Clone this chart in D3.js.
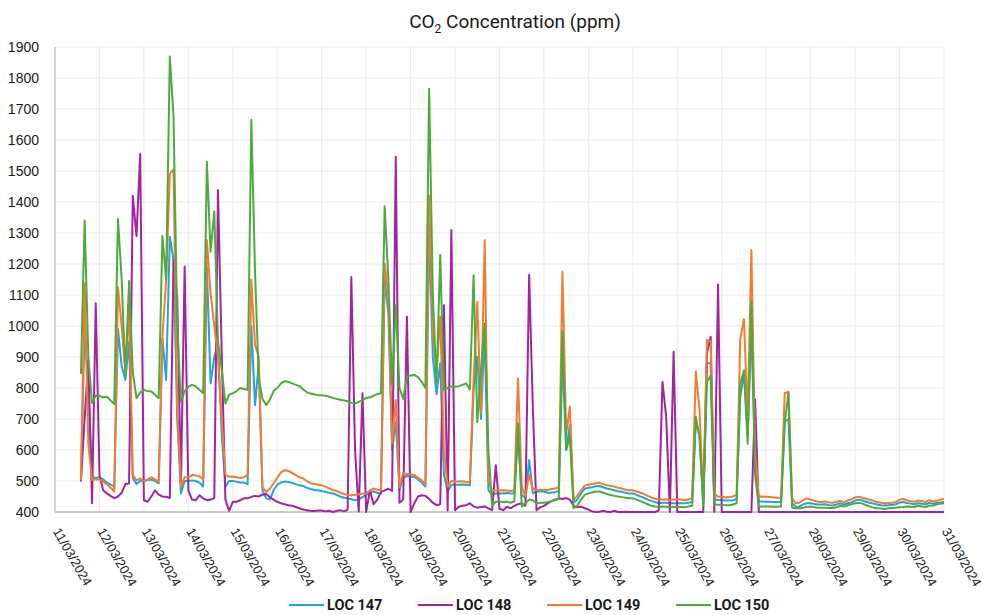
<!DOCTYPE html>
<html>
<head>
<meta charset="utf-8">
<script src="https://cdn.jsdelivr.net/npm/d3@7"></script>
<style>
  body { margin: 0; background: #fff; }
  svg { font-family: Roboto, "Open Sans", sans-serif; }
</style>
</head>
<body>
<svg id="chart" width="983" height="615"></svg>
<script>
// series and their colours
var seriesNames = ["LOC 147", "LOC 148", "LOC 149", "LOC 150"];
var seriesColors = ["#1fa5d8", "#a0259e", "#f47b30", "#4eaa3c"];

// readings every 2 hours, first one 11/03/2024 14:00
var sampleStart = "11/03/2024 14";
var sampleStepHours = 2;

var dayTicks = ["11/03/2024", "12/03/2024", "13/03/2024", "14/03/2024", "15/03/2024", "16/03/2024",
  "17/03/2024", "18/03/2024", "19/03/2024", "20/03/2024", "21/03/2024", "22/03/2024", "23/03/2024",
  "24/03/2024", "25/03/2024", "26/03/2024", "27/03/2024", "28/03/2024", "29/03/2024", "30/03/2024", "31/03/2024"];
var ppmTicks = [400, 500, 600, 700, 800, 900, 1000, 1100, 1200, 1300, 1400, 1500, 1600, 1700, 1800, 1900];

// one row per day (00h, 02h ... 22h), first row starts at 14h, last value is 31/03 00h
var loc147 = [
  500, 1000, 790, 512, 510,
  512, 505, 495, 488, 482, 990, 870, 826, 950, 510, 490, 500,
  500, 503, 505, 500, 492, 960, 826, 1288, 1213, 700, 460, 500,
  500, 502, 500, 495, 482, 1190, 815, 900, 940, 650, 482, 500,
  500, 498, 495, 495, 490, 1000, 745, 880, 470, 444, 440, 470,
  488, 495, 498, 497, 494, 490, 486, 484, 478, 474, 471, 470,
  468, 465, 462, 460, 455, 450, 446, 444, 441, 438, 440, 448,
  455, 462, 466, 462, 460, 1150, 1040, 600, 690, 470, 512, 516,
  514, 514, 505, 495, 482, 1300, 900, 780, 880, 520, 466, 488,
  488, 488, 489, 488, 486, 790, 900, 700, 980, 470, 456, 460,
  460, 460, 461, 460, 460, 650, 455, 445, 568, 460, 466, 466,
  466, 462, 462, 464, 468, 900, 600, 680, 430, 440, 460, 475,
  478, 480, 483, 484, 480, 476, 473, 470, 467, 465, 462, 460,
  460, 455, 450, 446, 440, 436, 432, 428, 430, 430, 428, 428,
  428, 428, 428, 430, 432, 690, 650, 430, 880, 880, 440, 439,
  439, 437, 437, 438, 442, 771, 850, 650, 1000, 560, 433, 434,
  433, 433, 432, 432, 432, 691, 700, 428, 417, 418, 425, 428,
  428, 426, 424, 424, 425, 422, 421, 424, 428, 424, 428, 431,
  437, 440, 437, 433, 430, 427, 424, 422, 421, 422, 423, 425,
  430, 432, 429, 427, 425, 428, 427, 425, 429, 427, 429, 431,
  432
];
var loc148 = [
  498, 700, 890, 428, 1073,
  520, 470, 460, 452, 445, 450, 462, 490, 492, 1420, 1290, 1555,
  438, 433, 450, 470, 456, 450, 449, 445, 1213, 1089, 490, 1192,
  470, 440, 438, 454, 444, 438, 440, 445, 1439, 917, 440, 404,
  433, 433, 438, 444, 444, 449, 452, 450, 456, 458, 448, 440,
  433, 428, 425, 422, 420, 416, 412, 408, 406, 404, 403, 405,
  405, 402, 404, 400, 403, 406, 402, 408, 1158, 600, 402, 783,
  400, 470, 425, 440, 465, 470, 475, 468, 1546, 430, 440, 1030,
  400, 428, 450, 454, 452, 442, 430, 422, 425, 1067, 405, 1310,
  406, 417, 420, 422, 428, 418, 414, 416, 418, 412, 406, 551,
  410, 406, 417, 412, 420, 425, 428, 420, 1165, 737, 406, 415,
  420, 428, 435, 440, 444, 442, 445, 440, 420, 415, 418, 412,
  408, 402, 400, 401, 404, 401, 400, 404, 400, 400, 401, 400,
  400, 400, 400, 400, 400, 400, 400, 405, 820, 707, 400, 917,
  400, 400, 400, 400, 400, 400, 400, 400, 912, 965, 400, 1134,
  400, 400, 400, 400, 400, 400, 400, 400, 400, 763, 400, 400,
  400, 400, 400, 400, 400, 400, 400, 400, 400, 400, 400, 400,
  400, 400, 400, 400, 400, 400, 400, 400, 400, 400, 400, 400,
  400, 400, 400, 400, 400, 400, 400, 400, 400, 400, 400, 400,
  400, 400, 400, 400, 400, 400, 400, 400, 400, 400, 400, 400,
  400
];
var loc149 = [
  502, 1138, 620, 503, 505,
  505, 498, 490, 478, 466, 1125, 1000, 850, 1060, 520, 502, 508,
  500, 505, 512, 505, 497, 965, 1148, 1490, 1505, 740, 482, 512,
  512, 519, 518, 515, 505, 1277, 1105, 1000, 900, 700, 520, 514,
  514, 512, 510, 512, 520, 1150, 940, 900, 480, 465, 475, 492,
  510, 528, 535, 533, 526, 519, 512, 508, 500, 493, 490, 488,
  486, 482, 476, 471, 468, 462, 458, 455, 454, 456, 457, 459,
  460, 468, 476, 472, 470, 1202, 1095, 620, 761, 480, 525, 522,
  522, 519, 510, 502, 488, 1420, 980, 850, 1030, 600, 482, 500,
  498, 498, 499, 497, 495, 830, 1078, 720, 1277, 500, 469, 469,
  469, 470, 469, 468, 470, 831, 482, 450, 520, 475, 471, 471,
  471, 471, 474, 476, 480, 1175, 650, 740, 440, 452, 470, 485,
  488, 490, 493, 494, 490, 486, 484, 482, 478, 476, 472, 470,
  470, 466, 462, 458, 452, 447, 443, 440, 440, 441, 438, 440,
  440, 440, 438, 440, 445, 853, 730, 439, 955, 950, 460, 449,
  449, 447, 448, 450, 455, 960, 1022, 700, 1245, 600, 449, 450,
  449, 448, 447, 446, 445, 783, 788, 445, 428, 430, 438, 444,
  440, 436, 433, 432, 434, 431, 430, 433, 436, 432, 437, 441,
  447, 449, 446, 443, 440, 436, 432, 430, 428, 429, 430, 432,
  440, 442, 438, 435, 433, 437, 435, 432, 438, 434, 436, 440,
  442
];
var loc150 = [
  845, 1340, 900, 752, 775,
  775, 770, 772, 760, 748, 1345, 1150, 840, 1145, 850, 767, 785,
  794, 790, 789, 778, 767, 1290, 1150, 1869, 1675, 1000, 756, 790,
  804, 810, 805, 794, 783, 1530, 1240, 1370, 950, 860, 750, 778,
  783, 790, 800, 797, 794, 1665, 1175, 830, 765, 745, 762, 790,
  800, 815, 822, 820, 815, 810, 806, 796, 786, 782, 780, 777,
  777, 775, 772, 768, 765, 762, 760, 757, 752, 750, 755, 760,
  768, 770, 775, 780, 783, 1386, 1150, 810, 1067, 800, 765, 837,
  840, 842, 835, 820, 800, 1765, 1100, 815, 1229, 794, 800, 805,
  804, 806, 810, 815, 795, 1164, 690, 860, 1008, 600, 420, 433,
  433, 432, 433, 430, 434, 686, 418, 428, 440, 438, 428, 430,
  430, 432, 435, 438, 443, 982, 600, 643, 412, 420, 440, 455,
  460, 463, 466, 466, 462, 458, 455, 452, 450, 448, 446, 444,
  444, 440, 435, 430, 425, 420, 418, 417, 418, 417, 415, 416,
  416, 416, 415, 418, 420, 708, 640, 420, 820, 840, 425, 423,
  423, 422, 422, 424, 428, 814, 857, 620, 1078, 520, 417, 418,
  418, 418, 417, 417, 418, 686, 785, 414, 412, 412, 414, 417,
  417, 415, 414, 414, 414, 413, 413, 415, 420, 418, 422, 425,
  428, 430, 427, 422, 418, 414, 412, 411, 410, 412, 413, 414,
  415, 416, 418, 417, 416, 420, 418, 416, 420, 421, 424, 427,
  428
];

var margin = { top: 47, right: 39, bottom: 103, left: 55 },
    width = 983 - margin.left - margin.right,
    height = 615 - margin.top - margin.bottom;

var parseDay = d3.timeParse("%d/%m/%Y");
var parseStart = d3.timeParse("%d/%m/%Y %H");
var t0 = parseStart(sampleStart);

var seriesValues = [loc147, loc148, loc149, loc150];
var series = seriesNames.map(function(name, k) {
    return {
        name: name,
        color: seriesColors[k],
        values: seriesValues[k].map(function(v, i) {
            return { date: d3.timeHour.offset(t0, i * sampleStepHours), ppm: v };
        })
    };
});

var tickDates = dayTicks.map(parseDay);

var x = d3.scaleTime()
    .domain([tickDates[0], tickDates[tickDates.length - 1]])
    .range([0, width]);
var y = d3.scaleLinear()
    .domain([ppmTicks[0], ppmTicks[ppmTicks.length - 1]])
    .range([height, 0]);

var svg = d3.select("#chart");
var g = svg.append("g")
    .attr("transform", "translate(" + margin.left + "," + margin.top + ")");

// grid
g.append("g")
    .selectAll("line")
    .data(ppmTicks)
    .enter().append("line")
    .attr("x1", 0).attr("x2", width)
    .attr("y1", function(d) { return y(d); })
    .attr("y2", function(d) { return y(d); })
    .attr("stroke", "#ebebeb")
    .attr("stroke-width", 1);

g.append("g")
    .selectAll("line")
    .data(tickDates)
    .enter().append("line")
    .attr("x1", function(d) { return x(d); })
    .attr("x2", function(d) { return x(d); })
    .attr("y1", 0).attr("y2", height)
    .attr("stroke", "#ebebeb")
    .attr("stroke-width", 1);

// Y axis labels
var yAxis = g.append("g")
    .call(d3.axisLeft(y).tickValues(ppmTicks).tickFormat(d3.format("d")).tickSize(0).tickPadding(16));
yAxis.select(".domain").remove();
yAxis.selectAll("text")
    .style("font-size", "14px")
    .style("fill", "#1a1a1a");

// X axis, rotated day labels
var xAxis = g.append("g")
    .attr("transform", "translate(0," + height + ")")
    .call(d3.axisBottom(x).tickValues(tickDates).tickSize(0).tickFormat(d3.timeFormat("%d/%m/%Y")));
xAxis.select(".domain").remove();
xAxis.selectAll("text")
    .style("font-size", "13px")
    .style("fill", "#1a1a1a")
    .attr("text-anchor", "start")
    .attr("dy", "0.35em")
    .attr("y", 0)
    .attr("transform", "translate(1,17) rotate(60)");

// axis lines
g.append("line")
    .attr("x1", 0).attr("x2", 0)
    .attr("y1", 0).attr("y2", height)
    .attr("stroke", "#c4c4c4").attr("stroke-width", 1.3);
g.append("line")
    .attr("x1", 0).attr("x2", width)
    .attr("y1", height).attr("y2", height)
    .attr("stroke", "#bdbdbd").attr("stroke-width", 1.3);

// lines
var line = d3.line()
    .x(function(d) { return x(d.date); })
    .y(function(d) { return y(d.ppm); });

g.selectAll(".series")
    .data(series)
    .enter().append("path")
    .attr("class", "series")
    .attr("fill", "none")
    .attr("stroke", function(d) { return d.color; })
    .attr("stroke-width", 2)
    .attr("stroke-linejoin", "round")
    .attr("d", function(d) { return line(d.values); });

// title
var title = svg.append("text")
    .attr("x", 515)
    .attr("y", 28)
    .attr("text-anchor", "middle")
    .style("font-size", "19px")
    .style("fill", "#1a1a1a");
title.append("tspan").text("CO");
title.append("tspan").attr("dy", 5).style("font-size", "12px").text("2");
title.append("tspan").attr("dy", -5).text(" Concentration (ppm)");

// legend
var legend = svg.append("g")
    .attr("transform", "translate(289,605)");
var item = legend.selectAll("g")
    .data(series)
    .enter().append("g")
    .attr("transform", function(d, i) { return "translate(" + (i * 129) + ",0)"; });
item.append("line")
    .attr("x1", 0).attr("x2", 35)
    .attr("stroke", function(d) { return d.color; })
    .attr("stroke-width", 2);
item.append("text")
    .attr("x", 38)
    .attr("dy", "0.35em")
    .style("font-size", "14.5px")
    .style("font-weight", "bold")
    .style("fill", "#1a1a1a")
    .text(function(d) { return d.name; });
</script>
</body>
</html>
